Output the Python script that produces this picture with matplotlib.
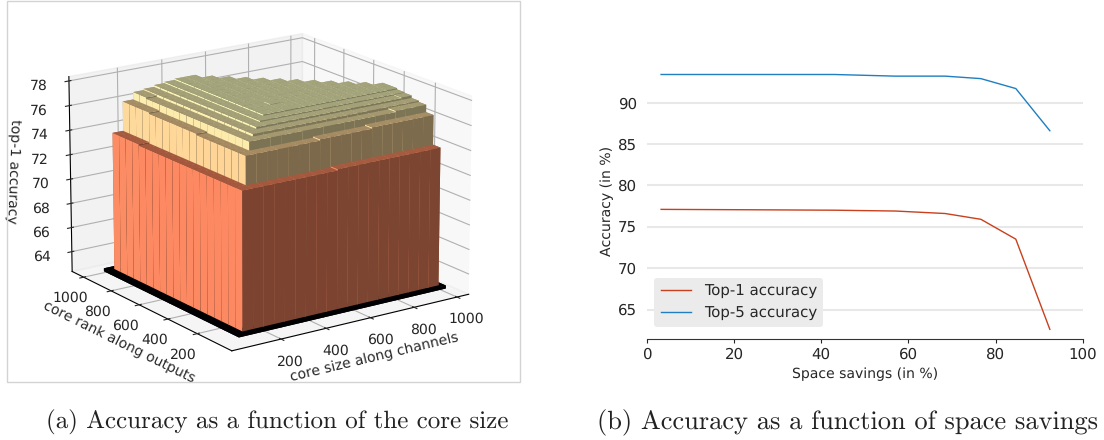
import numpy as np
import matplotlib
matplotlib.use("Agg")
import matplotlib.pyplot as plt
from matplotlib.patches import Rectangle
from matplotlib import colormaps

plt.rcParams["font.family"] = ["DejaVu Sans"]
plt.rcParams["text.hinting"] = "no_hinting"
plt.rcParams["text.hinting_factor"] = 1

# ---- data, panel (a) ----
n = float("nan")
core_sizes = [85, 132, 179, 226, 273, 320, 367, 414, 461, 508, 555, 602, 649, 696, 743, 790, 837, 884, 931, 978]
core_ranks = [75, 122, 169, 216, 263, 310, 357, 404, 451, 498, 545, 592, 639, 686, 733, 780, 827, 874, 921, 968]
accuracy_grid = [
 [62.6,62.6,62.6,62.6,62.6,62.6,62.6,62.6,62.6,62.6,62.6,62.6,62.6,62.6,62.6,62.6,62.6,62.6,62.6,62.6],
 [62.6,73.5,73.5,73.5,73.5,73.5,73.5,73.5,73.5,73.5,73.6,73.6,73.6,73.6,73.6,73.6,73.6,73.6,73.6,73.6],
 [62.6,73.5,75.8,75.8,75.8,75.8,75.8,75.8,75.8,75.9,75.9,75.9,75.9,75.9,76.0,76.0,76.0,76.0,76.0,76.0],
 [62.6,73.5,75.8,76.5,76.5,76.5,76.5,76.5,76.5,76.5,76.5,76.5,76.5,76.5,76.5,76.5,76.5,76.6,76.6,76.6],
 [62.6,73.5,75.8,76.5,76.7,76.7,76.7,76.7,76.7,76.7,76.7,76.7,76.7,76.7,76.7,76.7,76.7,76.7,76.7,76.7],
 [62.6,73.5,75.8,76.5,76.7,76.85,76.85,76.85,76.85,76.85,76.85,76.85,76.85,76.85,76.85,76.85,76.85,76.85,76.85,76.9],
 [62.6,73.5,75.8,76.5,76.7,76.85,76.95,76.95,76.95,76.95,76.95,76.95,76.95,76.95,76.95,76.95,76.95,76.95,76.95,76.95],
 [62.6,73.5,75.8,76.5,76.7,76.85,76.95,77.05,77.05,77.05,77.05,77.05,77.05,77.05,77.05,77.05,77.05,77.05,77.05,77.05],
 [62.6,73.5,75.8,76.5,76.7,76.85,76.95,77.05,77.05,77.05,77.05,77.05,77.05,77.05,77.05,77.05,77.05,77.05,77.05,77.05],
 [62.6,73.5,75.9,76.5,76.7,76.85,76.95,77.05,77.05,77.1,77.05,77.05,77.05,77.05,77.05,77.05,77.05,77.05,77.05,n],
 [62.6,73.5,75.9,76.5,76.7,76.85,76.95,77.05,77.05,77.05,77.05,77.05,77.05,77.05,77.05,77.05,77.05,77.05,n,n],
 [62.6,73.5,75.9,76.5,76.7,76.85,76.95,77.05,77.05,77.05,77.05,77.05,77.05,77.05,77.05,77.05,77.05,n,n,n],
 [62.6,73.5,75.9,76.5,76.7,76.85,76.95,77.05,77.05,77.05,77.05,77.05,77.05,77.05,77.05,77.05,n,n,n,n],
 [62.6,73.5,75.9,76.5,76.7,76.85,76.95,77.05,77.05,77.05,77.05,77.05,77.05,77.05,77.05,n,n,n,n,n],
 [62.6,73.5,75.9,76.5,76.7,76.85,76.95,77.05,77.05,77.05,77.05,77.05,77.05,77.05,n,n,n,n,n,n],
 [62.6,73.5,75.9,76.5,76.7,76.85,76.95,77.05,77.05,77.05,77.05,77.05,77.05,n,n,n,n,n,n,n],
 [62.6,73.6,76.0,76.5,76.7,76.85,76.95,77.05,77.05,77.05,77.05,77.05,n,n,n,n,n,n,n,n],
 [62.6,73.6,76.0,76.5,76.7,76.85,76.95,77.05,77.05,77.05,77.05,n,n,n,n,n,n,n,n,n],
 [62.6,73.6,76.0,76.6,76.7,76.85,76.95,77.05,77.05,77.05,n,n,n,n,n,n,n,n,n,n],
 [62.6,73.6,76.0,76.6,76.7,76.85,76.95,77.05,77.05,n,n,n,n,n,n,n,n,n,n,n],
]
xticks3d = [200, 400, 600, 800, 1000]
yticks3d = [200, 400, 600, 800, 1000]
zticks3d = [64, 66, 68, 70, 72, 74, 76, 78]

# ---- data, panel (b) ----
space_savings = [3.3, 25, 43, 57, 68.4, 76.6, 84.6, 92.4]
top1_accuracy = [77.1, 77.05, 77.0, 76.9, 76.6, 75.9, 73.5, 62.6]
top5_accuracy = [93.4, 93.4, 93.4, 93.2, 93.2, 92.9, 91.7, 86.6]
yticks2d = [65, 70, 75, 80, 85, 90]
xticks2d = [0, 20, 40, 60, 80, 100]

W, H = 1104, 440
fig = plt.figure(figsize=(W / 100, H / 100), dpi=100)
TXT = "#262626"

# ---------- panel (a) ----------
fig.add_artist(Rectangle((7 / W, 1 - 382 / H), 513 / W, 381 / H, transform=fig.transFigure,
                         fill=False, ec="#d3d3d3", lw=1))
ax = fig.add_axes([7 / W, 1 - 381 / H, 513 / W, 381 / H], projection="3d")
ax.patch.set_alpha(0)
ZMIN, ZMAX = 62.35, 78.35
X, Y = np.meshgrid(core_sizes, core_ranks)
Z = np.array(accuracy_grid)
keep = ~np.isnan(Z.ravel())
xs, ys, zs = X.ravel()[keep].astype(float), Y.ravel()[keep].astype(float), Z.ravel()[keep]
cmap = colormaps["magma"]
base = cmap((zs - 62.6) / (77.1 - 62.6))[:, :3]
factors = [0.4, 0.65, 0.49, 0.7, 1.0, 0.6]
face_colors = np.concatenate([np.array([b * f for f in factors]) for b in base])
ax.bar3d(xs, ys, np.full_like(zs, ZMIN), 47, 47, zs - ZMIN, color=face_colors, shade=False, linewidth=0)
ax.view_init(elev=17.5, azim=-125)
ax.set_proj_type("persp", focal_length=1.8)
ax.set_xlim(-15, 1055)
ax.set_ylim(-30, 1085)
ax.set_zlim(ZMIN, ZMAX)
ax.set_box_aspect((4, 4, 2.87), zoom=1.16)
ax.set_xticks(xticks3d)
ax.set_yticks(yticks3d)
ax.set_zticks(zticks3d)
ax.tick_params(labelsize=9.8, pad=0, colors=TXT)
ax.tick_params(axis="z", pad=3)
ax.set_xlabel("core size along channels", fontsize=10.3, labelpad=-3, color=TXT)
ax.set_ylabel("core rank along outputs", fontsize=10.3, labelpad=-3, color=TXT)
ax.zaxis.set_rotate_label(False)
ax.set_zlabel("top-1 accuracy", fontsize=10.3, labelpad=0, rotation=-92, color=TXT)

# ---------- panel (b) ----------
x0, x1, yb, yt = 646.7, 1083, 339.3, 62.9
ax2 = fig.add_axes([x0 / W, 1 - yb / H, (x1 - x0) / W, (yb - yt) / H])
ax2.plot(space_savings, top1_accuracy, color="#c8401e", lw=1, label="Top-1 accuracy")
ax2.plot(space_savings, top5_accuracy, color="#1f7fc0", lw=1, label="Top-5 accuracy")
ax2.set_xlim(0, 100)
ax2.set_ylim(61.4, 94.8)
ax2.set_xticks(xticks2d)
ax2.set_yticks(yticks2d)
ax2.yaxis.grid(True, color="#e8e8e8", lw=1.5)
ax2.set_axisbelow(True)
for s in ["top", "left", "right"]:
    ax2.spines[s].set_visible(False)
ax2.spines["bottom"].set_color("#333333")
ax2.tick_params(axis="y", length=0, labelsize=10.8, colors=TXT, pad=7)
ax2.tick_params(axis="x", length=3, labelsize=10.8, colors=TXT, pad=3)
ax2.set_xlabel("Space savings (in %)", fontsize=10, color=TXT, labelpad=4)
ax2.set_ylabel("Accuracy (in %)", fontsize=10.3, color=TXT, labelpad=3)
leg = ax2.legend(loc="lower left", bbox_to_anchor=(0.0, 0.017), fontsize=11.1, frameon=True,
                 facecolor="#ebebeb", edgecolor="none", framealpha=1, fancybox=True)
for t in leg.get_texts():
    t.set_color(TXT)

# ---------- captions ----------
cap = dict(family=["cmr10", "DejaVu Serif"], color="#222222", ha="center", va="baseline")
fig.text(277 / W, 1 - 429 / H, "(a) Accuracy as a function of the core size", fontsize=18, **cap)
fig.text(848 / W, 1 - 429 / H, "(b) Accuracy as a function of space savings", fontsize=19, **cap)

fig.savefig("out.png", dpi=100)
